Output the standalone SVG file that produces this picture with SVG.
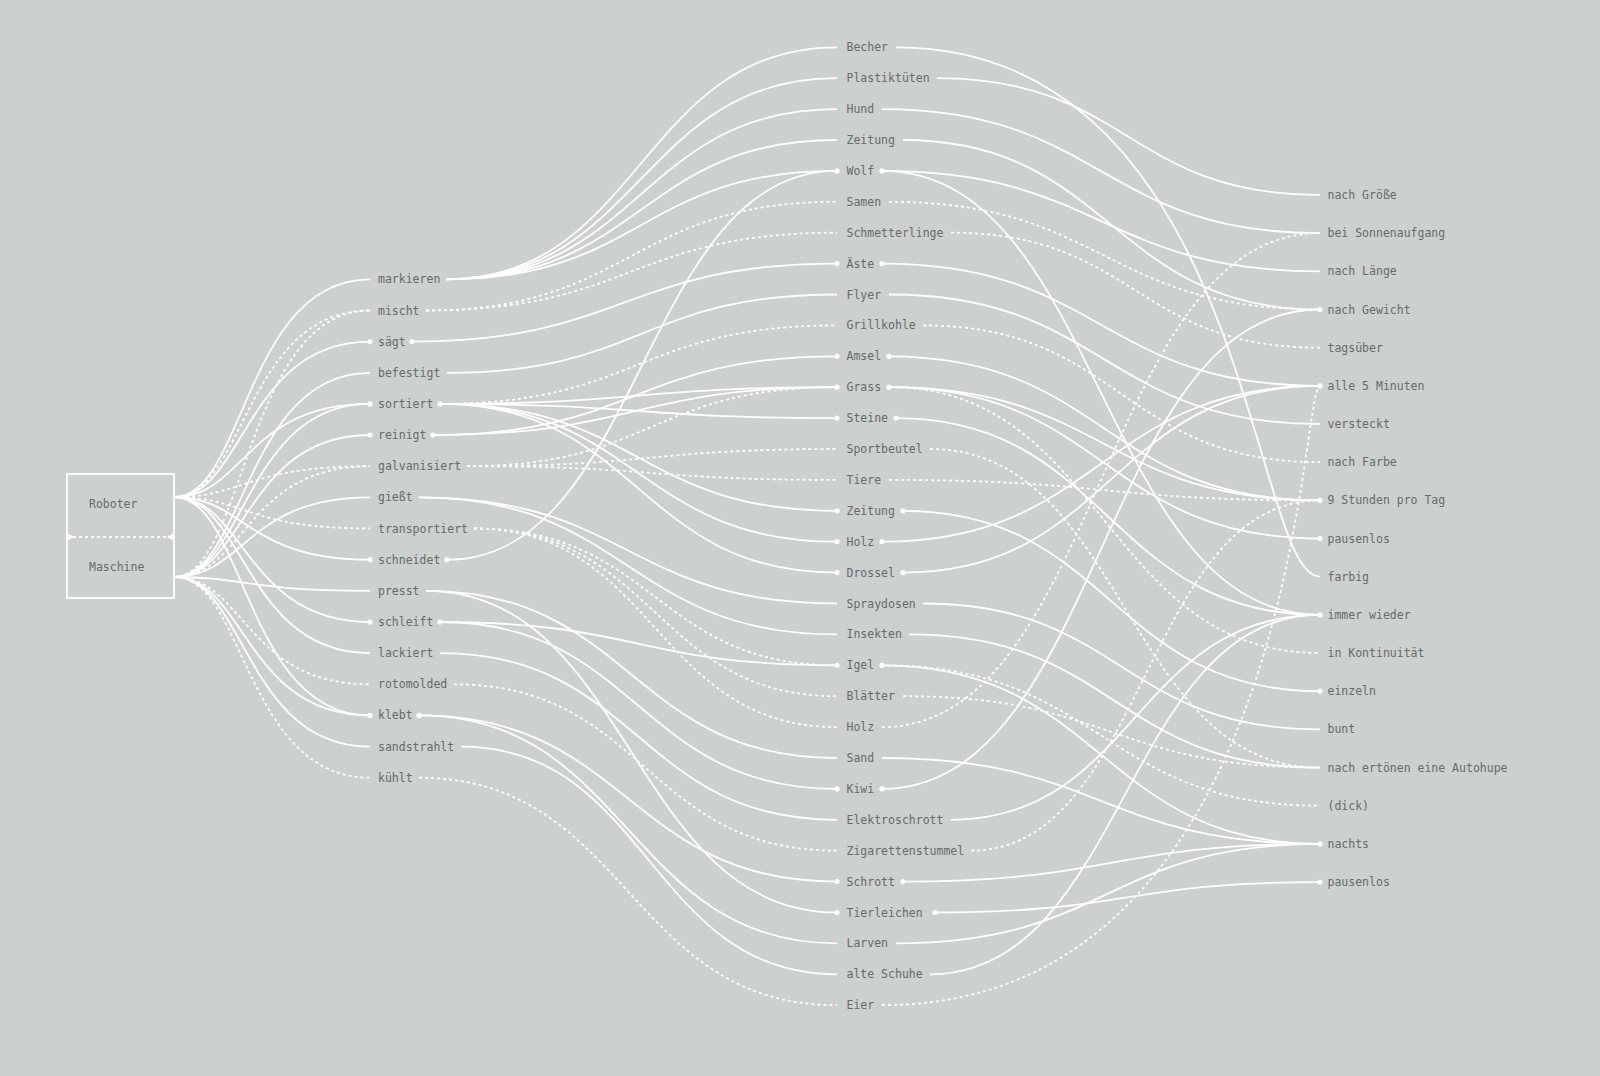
<svg xmlns="http://www.w3.org/2000/svg" width="1600" height="1076" viewBox="0 0 1600 1076">
<style>
text{font-family:"DejaVu Sans Mono","Liberation Mono",monospace;font-size:11.5px;fill:#676b69}
.l{fill:none;stroke:#fff;stroke-width:1.8}
.d{stroke-dasharray:3 3}
.dot{fill:#fff}
</style>
<rect width="1600" height="1076" fill="#ccd0ce"/>
<g id="box">
<rect x="67" y="474" width="107" height="124" fill="none" stroke="#fff" stroke-width="1.8"/>
<path d="M67 537L174 537" class="l d"/>
<path d="M67 533L74 537L67 541z M174 533L167 537L174 541z" fill="#fff"/>
<text x="89" y="508">Roboter</text>
<text x="89" y="571">Maschine</text>
</g>
<g id="connectors">
<path class="l" d="M174 497C245 497 245 279.3 370 279.3"/>
<path class="l d" d="M174 497C245 497 245 310.5 370 310.5"/>
<path class="l d" d="M174 577C245 577 245 310.5 370 310.5"/>
<path class="l" d="M174 497C245 497 245 341.6 370 341.6"/>
<path class="l" d="M174 577C245 577 245 372.8 370 372.8"/>
<path class="l" d="M174 497C245 497 245 403.9 370 403.9"/>
<path class="l" d="M174 577C245 577 245 403.9 370 403.9"/>
<path class="l" d="M174 577C245 577 245 435 370 435"/>
<path class="l d" d="M174 497C245 497 245 466.2 370 466.2"/>
<path class="l d" d="M174 577C245 577 245 466.2 370 466.2"/>
<path class="l" d="M174 577C245 577 245 497.4 370 497.4"/>
<path class="l d" d="M174 497C245 497 245 528.5 370 528.5"/>
<path class="l" d="M174 497C245 497 245 559.7 370 559.7"/>
<path class="l" d="M174 577C245 577 245 590.8 370 590.8"/>
<path class="l" d="M174 497C245 497 245 622 370 622"/>
<path class="l" d="M174 497C245 497 245 653.1 370 653.1"/>
<path class="l d" d="M174 577C245 577 245 684.3 370 684.3"/>
<path class="l" d="M174 577C245 577 245 715.4 370 715.4"/>
<path class="l" d="M174 497C245 497 245 715.4 370 715.4"/>
<path class="l" d="M174 577C245 577 245 746.6 370 746.6"/>
<path class="l d" d="M174 577C245 577 245 777.7 370 777.7"/>

<path class="l" d="M446 279.3C641 279.3 641 47.3 837 47.3"/>
<path class="l" d="M446 279.3C641 279.3 641 78.2 837 78.2"/>
<path class="l" d="M446 279.3C641 279.3 641 109.1 837 109.1"/>
<path class="l" d="M446 279.3C641 279.3 641 140 837 140"/>
<path class="l" d="M446 279.3C641 279.3 641 170.9 837 170.9"/>
<path class="l d" d="M426 310.5C631 310.5 631 201.8 837 201.8"/>
<path class="l d" d="M426 310.5C631 310.5 631 232.7 837 232.7"/>
<path class="l" d="M412 341.6C624 341.6 624 263.6 837 263.6"/>
<path class="l" d="M447 372.8C642 372.8 642 294.5 837 294.5"/>
<path class="l d" d="M440 403.9C638 403.9 638 325.4 837 325.4"/>
<path class="l" d="M440 403.9C638 403.9 638 387.2 837 387.2"/>
<path class="l" d="M440 403.9C638 403.9 638 418.1 837 418.1"/>
<path class="l" d="M440 403.9C638 403.9 638 510.8 837 510.8"/>
<path class="l" d="M440 403.9C638 403.9 638 541.7 837 541.7"/>
<path class="l" d="M440 403.9C638 403.9 638 572.6 837 572.6"/>
<path class="l" d="M433 435C635 435 635 356.3 837 356.3"/>
<path class="l" d="M433 435C635 435 635 387.2 837 387.2"/>
<path class="l d" d="M467 466.2C652 466.2 652 387.2 837 387.2"/>
<path class="l d" d="M467 466.2C652 466.2 652 449 837 449"/>
<path class="l d" d="M467 466.2C652 466.2 652 479.9 837 479.9"/>
<path class="l" d="M419 497.4C628 497.4 628 603.5 837 603.5"/>
<path class="l" d="M419 497.4C628 497.4 628 634.4 837 634.4"/>
<path class="l d" d="M474 528.5C655 528.5 655 665.3 837 665.3"/>
<path class="l d" d="M474 528.5C655 528.5 655 696.2 837 696.2"/>
<path class="l d" d="M474 528.5C655 528.5 655 727.1 837 727.1"/>
<path class="l" d="M447 559.7C642 559.7 642 170.9 837 170.9"/>
<path class="l" d="M426 590.8C631 590.8 631 758 837 758"/>
<path class="l" d="M426 590.8C631 590.8 631 912.5 837 912.5"/>
<path class="l" d="M440 622C638 622 638 665.3 837 665.3"/>
<path class="l" d="M440 622C638 622 638 788.9 837 788.9"/>
<path class="l" d="M440 653.1C638 653.1 638 819.8 837 819.8"/>
<path class="l d" d="M454 684.3C645 684.3 645 850.7 837 850.7"/>
<path class="l" d="M419 715.4C628 715.4 628 881.6 837 881.6"/>
<path class="l" d="M419 715.4C628 715.4 628 943.4 837 943.4"/>
<path class="l" d="M461 746.6C649 746.6 649 974.3 837 974.3"/>
<path class="l d" d="M419 777.7C628 777.7 628 1005.2 837 1005.2"/>

<path class="l" d="M896 47.3C1250 47.3 1250 576.7 1320 576.7"/>
<path class="l" d="M937 78.2C1128 78.2 1128 195 1320 195"/>
<path class="l" d="M882 109.1C1101 109.1 1101 233.2 1320 233.2"/>
<path class="l" d="M903 140C1111 140 1111 309.5 1320 309.5"/>
<path class="l" d="M882 170.9C1101 170.9 1101 271.3 1320 271.3"/>
<path class="l" d="M882 170.9C1101 170.9 1101 614.9 1320 614.9"/>
<path class="l d" d="M889 201.8C1104 201.8 1104 309.5 1320 309.5"/>
<path class="l d" d="M951 232.7C1135 232.7 1135 347.7 1320 347.7"/>
<path class="l" d="M882 263.6C1101 263.6 1101 385.9 1320 385.9"/>
<path class="l" d="M889 294.5C1104 294.5 1104 424 1320 424"/>
<path class="l d" d="M923 325.4C1121 325.4 1121 462.2 1320 462.2"/>
<path class="l" d="M889 356.3C1104 356.3 1104 500.4 1320 500.4"/>
<path class="l" d="M889 387.2C1104 387.2 1104 500.4 1320 500.4"/>
<path class="l" d="M889 387.2C1104 387.2 1104 538.5 1320 538.5"/>
<path class="l d" d="M889 387.2C1104 387.2 1104 653 1320 653"/>
<path class="l" d="M896 418.1C1108 418.1 1108 614.9 1320 614.9"/>
<path class="l d" d="M930 449C1125 449 1125 767.6 1320 767.6"/>
<path class="l d" d="M889 479.9C1104 479.9 1104 500.4 1320 500.4"/>
<path class="l" d="M903 510.8C1111 510.8 1111 691.2 1320 691.2"/>
<path class="l" d="M882 541.7C1101 541.7 1101 385.9 1320 385.9"/>
<path class="l" d="M903 572.6C1111 572.6 1111 385.9 1320 385.9"/>
<path class="l" d="M923 603.5C1121 603.5 1121 729.4 1320 729.4"/>
<path class="l" d="M909 634.4C1115 634.4 1115 767.6 1320 767.6"/>
<path class="l d" d="M882 665.3C1101 665.3 1101 805.7 1320 805.7"/>
<path class="l" d="M882 665.3C1101 665.3 1101 843.9 1320 843.9"/>
<path class="l d" d="M903 696.2C1111 696.2 1111 767.6 1320 767.6"/>
<path class="l d" d="M882 727.1C1101 727.1 1101 233.2 1320 233.2"/>
<path class="l" d="M882 758C1101 758 1101 843.9 1320 843.9"/>
<path class="l" d="M882 788.9C1101 788.9 1101 309.5 1320 309.5"/>
<path class="l" d="M951 819.8C1135 819.8 1135 614.9 1320 614.9"/>
<path class="l d" d="M971 850.7C1145 850.7 1145 500.4 1320 500.4"/>
<path class="l" d="M903 881.6C1111 881.6 1111 843.9 1320 843.9"/>
<path class="l" d="M935 912.5C1127 912.5 1127 882.1 1320 882.1"/>
<path class="l" d="M896 943.4C1108 943.4 1108 843.9 1320 843.9"/>
<path class="l" d="M930 974.3C1125 974.3 1125 614.9 1320 614.9"/>
<path class="l d" d="M882 1005.2C1300 1005.2 1300 385.9 1320 385.9"/>
</g>
<g id="dots" class="dot">
<circle cx="370" cy="341.6" r="2.6"/><circle cx="412" cy="341.6" r="2.6"/>
<circle cx="370" cy="403.9" r="2.6"/><circle cx="440" cy="403.9" r="2.6"/>
<circle cx="370" cy="435" r="2.6"/><circle cx="433" cy="435" r="2.6"/>
<circle cx="370" cy="559.7" r="2.6"/><circle cx="447" cy="559.7" r="2.6"/>
<circle cx="370" cy="622" r="2.6"/><circle cx="440" cy="622" r="2.6"/>
<circle cx="370" cy="715.4" r="2.6"/><circle cx="419" cy="715.4" r="2.6"/>
<circle cx="837" cy="170.9" r="2.6"/><circle cx="882" cy="170.9" r="2.6"/>
<circle cx="837" cy="263.6" r="2.6"/><circle cx="882" cy="263.6" r="2.6"/>
<circle cx="837" cy="356.3" r="2.6"/><circle cx="889" cy="356.3" r="2.6"/>
<circle cx="837" cy="387.2" r="2.6"/><circle cx="889" cy="387.2" r="2.6"/>
<circle cx="837" cy="418.1" r="2.6"/><circle cx="896" cy="418.1" r="2.6"/>
<circle cx="837" cy="510.8" r="2.6"/><circle cx="903" cy="510.8" r="2.6"/>
<circle cx="837" cy="541.7" r="2.6"/><circle cx="882" cy="541.7" r="2.6"/>
<circle cx="837" cy="572.6" r="2.6"/><circle cx="903" cy="572.6" r="2.6"/>
<circle cx="837" cy="665.3" r="2.6"/><circle cx="882" cy="665.3" r="2.6"/>
<circle cx="837" cy="788.9" r="2.6"/><circle cx="882" cy="788.9" r="2.6"/>
<circle cx="837" cy="881.6" r="2.6"/><circle cx="903" cy="881.6" r="2.6"/>
<circle cx="837" cy="912.5" r="2.6"/><circle cx="935" cy="912.5" r="2.6"/>
<circle cx="1320" cy="309.5" r="2.6"/><circle cx="1320" cy="385.9" r="2.6"/>
<circle cx="1320" cy="500.4" r="2.6"/><circle cx="1320" cy="538.5" r="2.6"/>
<circle cx="1320" cy="614.9" r="2.6"/><circle cx="1320" cy="691.2" r="2.6"/>
<circle cx="1320" cy="843.9" r="2.6"/><circle cx="1320" cy="882.1" r="2.6"/>
</g>
<g id="verbs">
<text x="378" y="283.3">markieren</text>
<text x="378" y="314.5">mischt</text>
<text x="378" y="345.6">sägt</text>
<text x="378" y="376.8">befestigt</text>
<text x="378" y="407.9">sortiert</text>
<text x="378" y="439">reinigt</text>
<text x="378" y="470.2">galvanisiert</text>
<text x="378" y="501.4">gießt</text>
<text x="378" y="532.5">transportiert</text>
<text x="378" y="563.7">schneidet</text>
<text x="378" y="594.8">presst</text>
<text x="378" y="626">schleift</text>
<text x="378" y="657.1">lackiert</text>
<text x="378" y="688.3">rotomolded</text>
<text x="378" y="719.4">klebt</text>
<text x="378" y="750.6">sandstrahlt</text>
<text x="378" y="781.7">kühlt</text>
</g>
<g id="objects">
<text x="846.5" y="51.3">Becher</text>
<text x="846.5" y="82.2">Plastiktüten</text>
<text x="846.5" y="113.1">Hund</text>
<text x="846.5" y="144">Zeitung</text>
<text x="846.5" y="174.9">Wolf</text>
<text x="846.5" y="205.8">Samen</text>
<text x="846.5" y="236.7">Schmetterlinge</text>
<text x="846.5" y="267.6">Äste</text>
<text x="846.5" y="298.5">Flyer</text>
<text x="846.5" y="329.4">Grillkohle</text>
<text x="846.5" y="360.3">Amsel</text>
<text x="846.5" y="391.2">Grass</text>
<text x="846.5" y="422.1">Steine</text>
<text x="846.5" y="453">Sportbeutel</text>
<text x="846.5" y="483.9">Tiere</text>
<text x="846.5" y="514.8">Zeitung</text>
<text x="846.5" y="545.7">Holz</text>
<text x="846.5" y="576.6">Drossel</text>
<text x="846.5" y="607.5">Spraydosen</text>
<text x="846.5" y="638.4">Insekten</text>
<text x="846.5" y="669.3">Igel</text>
<text x="846.5" y="700.2">Blätter</text>
<text x="846.5" y="731.1">Holz</text>
<text x="846.5" y="762">Sand</text>
<text x="846.5" y="792.9">Kiwi</text>
<text x="846.5" y="823.8">Elektroschrott</text>
<text x="846.5" y="854.7">Zigarettenstummel</text>
<text x="846.5" y="885.6">Schrott</text>
<text x="846.5" y="916.5">Tierleichen</text>
<text x="846.5" y="947.4">Larven</text>
<text x="846.5" y="978.3">alte Schuhe</text>
<text x="846.5" y="1009.2">Eier</text>
</g>
<g id="modifiers">
<text x="1327.5" y="199">nach Größe</text>
<text x="1327.5" y="237.2">bei Sonnenaufgang</text>
<text x="1327.5" y="275.3">nach Länge</text>
<text x="1327.5" y="313.5">nach Gewicht</text>
<text x="1327.5" y="351.7">tagsüber</text>
<text x="1327.5" y="389.9">alle 5 Minuten</text>
<text x="1327.5" y="428">versteckt</text>
<text x="1327.5" y="466.2">nach Farbe</text>
<text x="1327.5" y="504.4">9 Stunden pro Tag</text>
<text x="1327.5" y="542.5">pausenlos</text>
<text x="1327.5" y="580.7">farbig</text>
<text x="1327.5" y="618.9">immer wieder</text>
<text x="1327.5" y="657">in Kontinuität</text>
<text x="1327.5" y="695.2">einzeln</text>
<text x="1327.5" y="733.4">bunt</text>
<text x="1327.5" y="771.6">nach ertönen eine Autohupe</text>
<text x="1327.5" y="809.7">(dick)</text>
<text x="1327.5" y="847.9">nachts</text>
<text x="1327.5" y="886.1">pausenlos</text>
</g>
</svg>
